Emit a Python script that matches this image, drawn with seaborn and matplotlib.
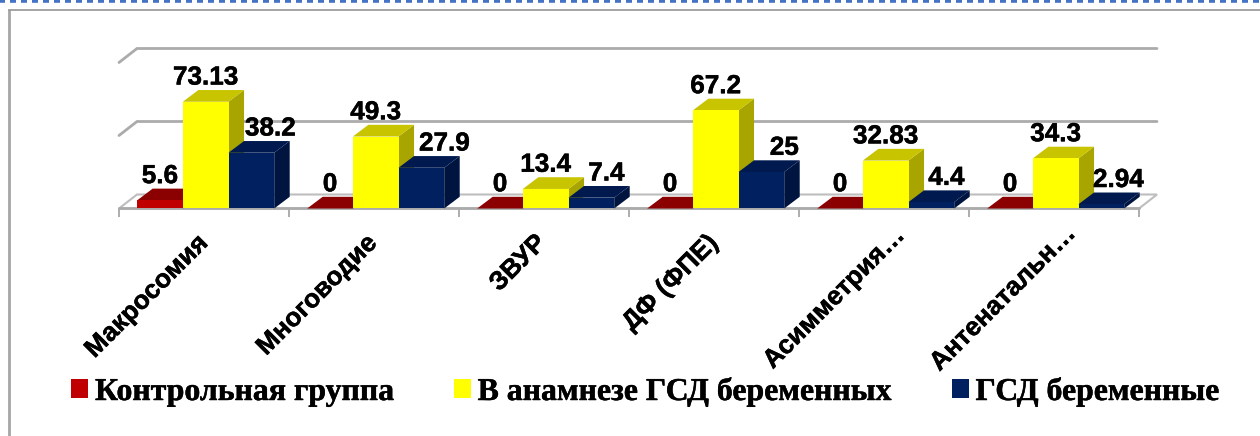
import matplotlib
matplotlib.use("Agg")
import matplotlib.pyplot as plt
import matplotlib.patheffects as pe
from matplotlib.lines import Line2D
from matplotlib.patches import Polygon
from matplotlib.transforms import Affine2D, ScaledTranslation
import pandas as pd
import seaborn as sns

categories = ["Макросомия", "Многоводие", "ЗВУР", "ДФ (ФПЕ)", "Асимметрия…", "Антенатальн…"]
control = [5.6, 0, 0, 0, 0, 0]
history = [73.13, 49.3, 13.4, 67.2, 32.83, 34.3]
gdm = [38.2, 27.9, 7.4, 25, 4.4, 2.94]
control_labels = ["5.6", "0", "0", "0", "0", "0"]
history_labels = ["73.13", "49.3", "13.4", "67.2", "32.83", "34.3"]
gdm_labels = ["38.2", "27.9", "7.4", "25", "4.4", "2.94"]
series_names = ["Контрольная группа", "В анамнезе ГСД беременных", "ГСД беременные"]

W, H = 1260, 436
sns.set_theme(style="white")
plt.rcParams["lines.scale_dashes"] = False
plt.rcParams["font.family"] = ["Liberation Sans", "DejaVu Sans"]

df = pd.DataFrame({
    "cat": categories * 3,
    "group": [n for n in series_names for _ in categories],
    "value": control + history + gdm,
})

fig = plt.figure(figsize=(W / 100, H / 100), dpi=100, facecolor="white")
PX_PER_UNIT = 1.46
AX_LEFT, AX_RIGHT, AX_BASE = 119, 1139, 208.5
ax = fig.add_axes([AX_LEFT / W, (H - AX_BASE) / H, (AX_RIGHT - AX_LEFT) / W, 100 * PX_PER_UNIT / H])
ax.patch.set_visible(False)

front = ["#C00000", "#FFFF00", "#002060"]
top = ["#8B0000", "#C8C400", "#001A50"]
side = ["#700000", "#A8A400", "#001440"]
sns.barplot(data=df, x="cat", y="value", hue="group", hue_order=series_names,
            palette=front, saturation=1, width=0.806, gap=0, errorbar=None,
            linewidth=0, ax=ax, legend=True)

SHIFT = 0.01
ax.set_xlim(-0.5 - SHIFT, 5.5 - SHIFT)
ax.set_ylim(0, 100)
DX = 18 / 170
DY = 14 / PX_PER_UNIT
BAR_DX = 15.5 / 170
BAR_DY = 11.7 / PX_PER_UNIT
GRID = "#ABABAB"
x0, x1 = ax.get_xlim()
bold_stroke = [pe.withStroke(linewidth=0.35, foreground="black")]

# floor and back wall
floor = Polygon([(x0, 0), (x1, 0), (x1 + DX, DY), (x0 + DX, DY)], closed=True,
                facecolor="white", edgecolor="#BEBEBE", lw=1.5, zorder=1, clip_on=False)
ax.add_patch(floor)
ax.plot([x0, x1], [0, 0], color=GRID, lw=2, zorder=2, clip_on=False)
for level in (50, 100):
    ax.plot([x0, x0 + DX, x1 + DX], [level, level + DY, level + DY], color=GRID, lw=2,
            zorder=1, clip_on=False, solid_joinstyle="miter")

# 3-D faces, built from the bars seaborn drew
texts = [control_labels, history_labels, gdm_labels]
label_dx = [[0] * 6, [0] * 6, [19, 23, 15, 23, 15, 17]]
for i, cont in enumerate(ax.containers):
    z = 3 + i
    for j, bar in enumerate(cont):
        xa = bar.get_x()
        xb = xa + bar.get_width()
        h = bar.get_height()
        ax.add_patch(Polygon([(xb, 0), (xb + BAR_DX, BAR_DY), (xb + BAR_DX, h + BAR_DY), (xb, h)], closed=True,
                             facecolor=side[i], edgecolor="none", zorder=z, clip_on=False))
        ax.add_patch(Polygon([(xa, h), (xa + BAR_DX, h + BAR_DY), (xb + BAR_DX, h + BAR_DY), (xb, h)], closed=True,
                             facecolor=top[i], edgecolor="none", zorder=z, clip_on=False))
        bar.set_zorder(z + 0.1)
        bar.set_clip_on(False)
        ax.annotate(texts[i][j], xy=((xa + xb) / 2, h + BAR_DY), xytext=(label_dx[i][j] * 0.72, 5.5 * 0.72),
                    textcoords="offset points", ha="center", va="baseline", fontsize=18.8,
                    fontweight="bold", color="black", zorder=10, annotation_clip=False,
                    path_effects=bold_stroke)

# axes furniture
sns.despine(ax=ax, left=True, bottom=True, top=True, right=True)
ax.set_xlabel("")
ax.set_ylabel("")
ax.set_yticks([])
ax.set_xticks(range(len(categories)))
ax.set_xticklabels(categories, rotation=45, ha="right", rotation_mode="anchor",
                   fontsize=18.8, fontweight="bold", color="black", path_effects=bold_stroke)
ax.set_xticks([k - 0.5 - SHIFT for k in range(len(categories) + 1)], minor=True)
ax.tick_params(axis="x", which="major", length=0, pad=16)
ax.tick_params(axis="x", which="minor", length=9 * 0.72, width=1.2, color="#A0A0A0", bottom=True)
tick_shift_px = [(-10, 0), (-11, 0), (-12, 0), (-10, 0), (7, 8), (8, 10)]
for lab, (sx, sy) in zip(ax.get_xticklabels(), tick_shift_px):
    lab.set_transform(lab.get_transform() + ScaledTranslation(sx / 100, sy / 100, fig.dpi_scale_trans))

# legend
handles, labels = ax.get_legend_handles_labels()
fs = 22.9
swatch = 17 * 0.72
leg = ax.legend(handles, labels, ncol=3, frameon=False, loc="center left",
                bbox_to_anchor=(71 / W, (H - 392) / H), bbox_transform=fig.transFigure,
                prop={"family": "Liberation Serif", "weight": "bold", "size": fs},
                labelcolor="black",
                handlelength=swatch / fs, handleheight=swatch / fs,
                handletextpad=7 * 0.72 / fs, columnspacing=59.5 * 0.72 / fs, borderpad=0, borderaxespad=0)
for t in leg.get_texts():
    t.set_path_effects(bold_stroke)

# slide frame and dotted rule
px = Affine2D().scale(1 / W, -1 / H).translate(0, 1) + fig.transFigure
fig.add_artist(Line2D([8.5, 8.5], [10, H], transform=px, color="#A6A6A6", lw=2, solid_capstyle="butt"))
fig.add_artist(Line2D([8, W], [10.5, 10.5], transform=px, color="#8C8C8C", lw=1.1, solid_capstyle="butt"))
fig.add_artist(Line2D([-1.5, W], [1.5, 1.5], transform=px, color="#4472C4", lw=2.6,
                      linestyle=(0, (6 * 0.72, 5 * 0.72)), dash_capstyle="butt"))

fig.savefig("out.png", dpi=100, facecolor="white")
